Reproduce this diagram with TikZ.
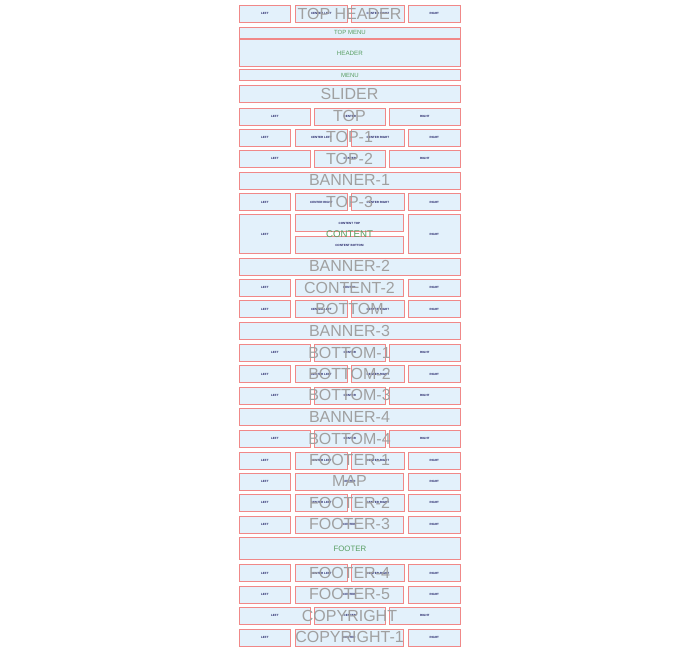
\documentclass[tikz,border=0pt]{standalone}
\usepackage{fontspec}
\setmainfont{Liberation Sans}
\definecolor{cellfill}{RGB}{227,241,251}
\definecolor{cellred}{RGB}{240,136,136}
\definecolor{cellgray}{RGB}{175,185,195}
\definecolor{navytext}{RGB}{30,30,100}
\definecolor{biggray}{RGB}{160,160,160}
\definecolor{greentext}{RGB}{88,158,98}
\tikzset{
  cell/.style={draw=cellred, line width=0.8pt, fill=cellfill, anchor=north west,
    inner sep=0pt, minimum height=17pt, text=navytext,
    font=\fontsize{3}{3.5}\selectfont\bfseries},
  biglabel/.style={text=biggray, inner sep=0pt, font=\fontsize{16}{16}\selectfont},
  greenlabel/.style={text=greentext, inner sep=0pt, font=\fontsize{6}{6}\selectfont}
}
\newcommand\fourcols[6]{%
  \node[cell,minimum width=51pt] (#1a) at (239,#2) {#3};
  \node[cell,minimum width=52pt] (#1b) at (295,#2) {#4};
  \node[cell,minimum width=53pt] (#1c) at (351,#2) {#5};
  \node[cell,minimum width=52pt] (#1d) at (408,#2) {#6};}
\newcommand\threecols[2]{%
  \node[cell,minimum width=71pt] (#1a) at (239,#2) {LEFT};
  \node[cell,minimum width=71pt] (#1b) at (314,#2) {CENTER};
  \node[cell,minimum width=71pt] (#1c) at (389,#2) {RIGHT};}
\newcommand\widecenter[2]{%
  \node[cell,minimum width=51pt] (#1a) at (239,#2) {LEFT};
  \node[cell,minimum width=108pt] (#1b) at (295,#2) {CENTER};
  \node[cell,minimum width=52pt] (#1c) at (408,#2) {RIGHT};}
\newcommand\fullrow[3]{%
  \node[cell,minimum width=221pt,minimum height=#3] (#1) at (239,#2) {};}
\newcommand\biglab[3]{%
  \node[biglabel] (#1) at (349.5,#2) {#3};}
\begin{document}
\begin{tikzpicture}[x=1pt,y=-1pt]
\useasboundingbox[fill=white] (0,0) rectangle (700,650);
% rows
\fourcols{th}{5}{LEFT}{CENTER LEFT}{CENTER RIGHT}{RIGHT}
\fullrow{topmenu}{27}{11pt}
\fullrow{header}{39.5}{27pt}
\fullrow{menu}{69.5}{11pt}
\fullrow{slider}{85}{17pt}
\threecols{top}{107.5}
\fourcols{topa}{128.5}{LEFT}{CENTER LEFT}{CENTER RIGHT}{RIGHT}
\threecols{topb}{150}
\fullrow{bannera}{171.5}{17pt}
\fourcols{topc}{193.3}{LEFT}{CENTER RIGHT}{CENTER RIGHT}{RIGHT}
% content
\node[cell,minimum width=51pt,minimum height=39pt] (cl) at (239,214.3) {LEFT};
\node[cell,minimum width=108pt] (ctop) at (295,214.3) {CONTENT TOP};
\node[cell,minimum width=108pt] (cbot) at (295,236.3) {CONTENT BOTTOM};
\node[cell,minimum width=52pt,minimum height=39pt] (cr) at (408,214.3) {RIGHT};
\fullrow{bannerb}{257.5}{17pt}
\widecenter{conb}{279}
\fourcols{bot}{300.3}{LEFT}{CENTER LEFT}{CENTER RIGHT}{RIGHT}
\fullrow{bannerc}{322.3}{17pt}
\threecols{bota}{344}
\fourcols{botb}{365.3}{LEFT}{CENTER LEFT}{CENTER RIGHT}{RIGHT}
\threecols{botc}{386.7}
\fullrow{bannerd}{408.3}{17pt}
\threecols{botd}{430}
\fourcols{fta}{451.5}{LEFT}{CENTER LEFT}{CENTER RIGHT}{RIGHT}
\widecenter{map}{472.7}
\fourcols{ftb}{494}{LEFT}{CENTER LEFT}{CENTER RIGHT}{RIGHT}
\widecenter{ftc}{515.7}
\fullrow{footer}{537.3}{22pt}
\fourcols{ftd}{564.3}{LEFT}{CENTER LEFT}{CENTER RIGHT}{RIGHT}
\widecenter{fte}{585.5}
\threecols{copy}{607}
\widecenter{copya}{628.5}
% green labels
\node[greenlabel] (lbtopmenu) at (topmenu.center) {TOP MENU};
\node[greenlabel,font=\fontsize{6.2}{6.2}\selectfont] (lbheader) at (header.center) {HEADER};
\node[greenlabel] (lbmenu) at (menu.center) {MENU};
\node[greenlabel,font=\fontsize{9.7}{9.7}\selectfont] (lbcontent) at (349.5,234) {CONTENT};
\node[greenlabel,font=\fontsize{7.8}{7.8}\selectfont] (lbfooter) at (footer.center) {FOOTER};
% big gray labels
\biglab{lth}{13.5}{TOP HEADER}
\biglab{lslider}{93.5}{SLIDER}
\biglab{ltop}{115.8}{TOP}
\biglab{ltopa}{136.8}{TOP-1}
\biglab{ltopb}{158.5}{TOP-2}
\biglab{lbannera}{180}{BANNER-1}
\biglab{ltopc}{201.6}{TOP-3}
\biglab{lbannerb}{266}{BANNER-2}
\biglab{lconb}{287.5}{CONTENT-2}
\biglab{lbot}{308.8}{BOTTOM}
\biglab{lbannerc}{330.8}{BANNER-3}
\biglab{lbota}{352.5}{BOTTOM-1}
\biglab{lbotb}{373.8}{BOTTOM-2}
\biglab{lbotc}{395.2}{BOTTOM-3}
\biglab{lbannerd}{416.8}{BANNER-4}
\biglab{lbotd}{438.5}{BOTTOM-4}
\biglab{lfta}{460}{FOOTER-1}
\biglab{lmap}{481.2}{MAP}
\biglab{lftb}{502.5}{FOOTER-2}
\biglab{lftc}{524.2}{FOOTER-3}
\biglab{lftd}{572.8}{FOOTER-4}
\biglab{lfte}{594}{FOOTER-5}
\biglab{lcopy}{615.5}{COPYRIGHT}
\biglab{lcopya}{637}{COPYRIGHT-1}
\end{tikzpicture}
\end{document}
